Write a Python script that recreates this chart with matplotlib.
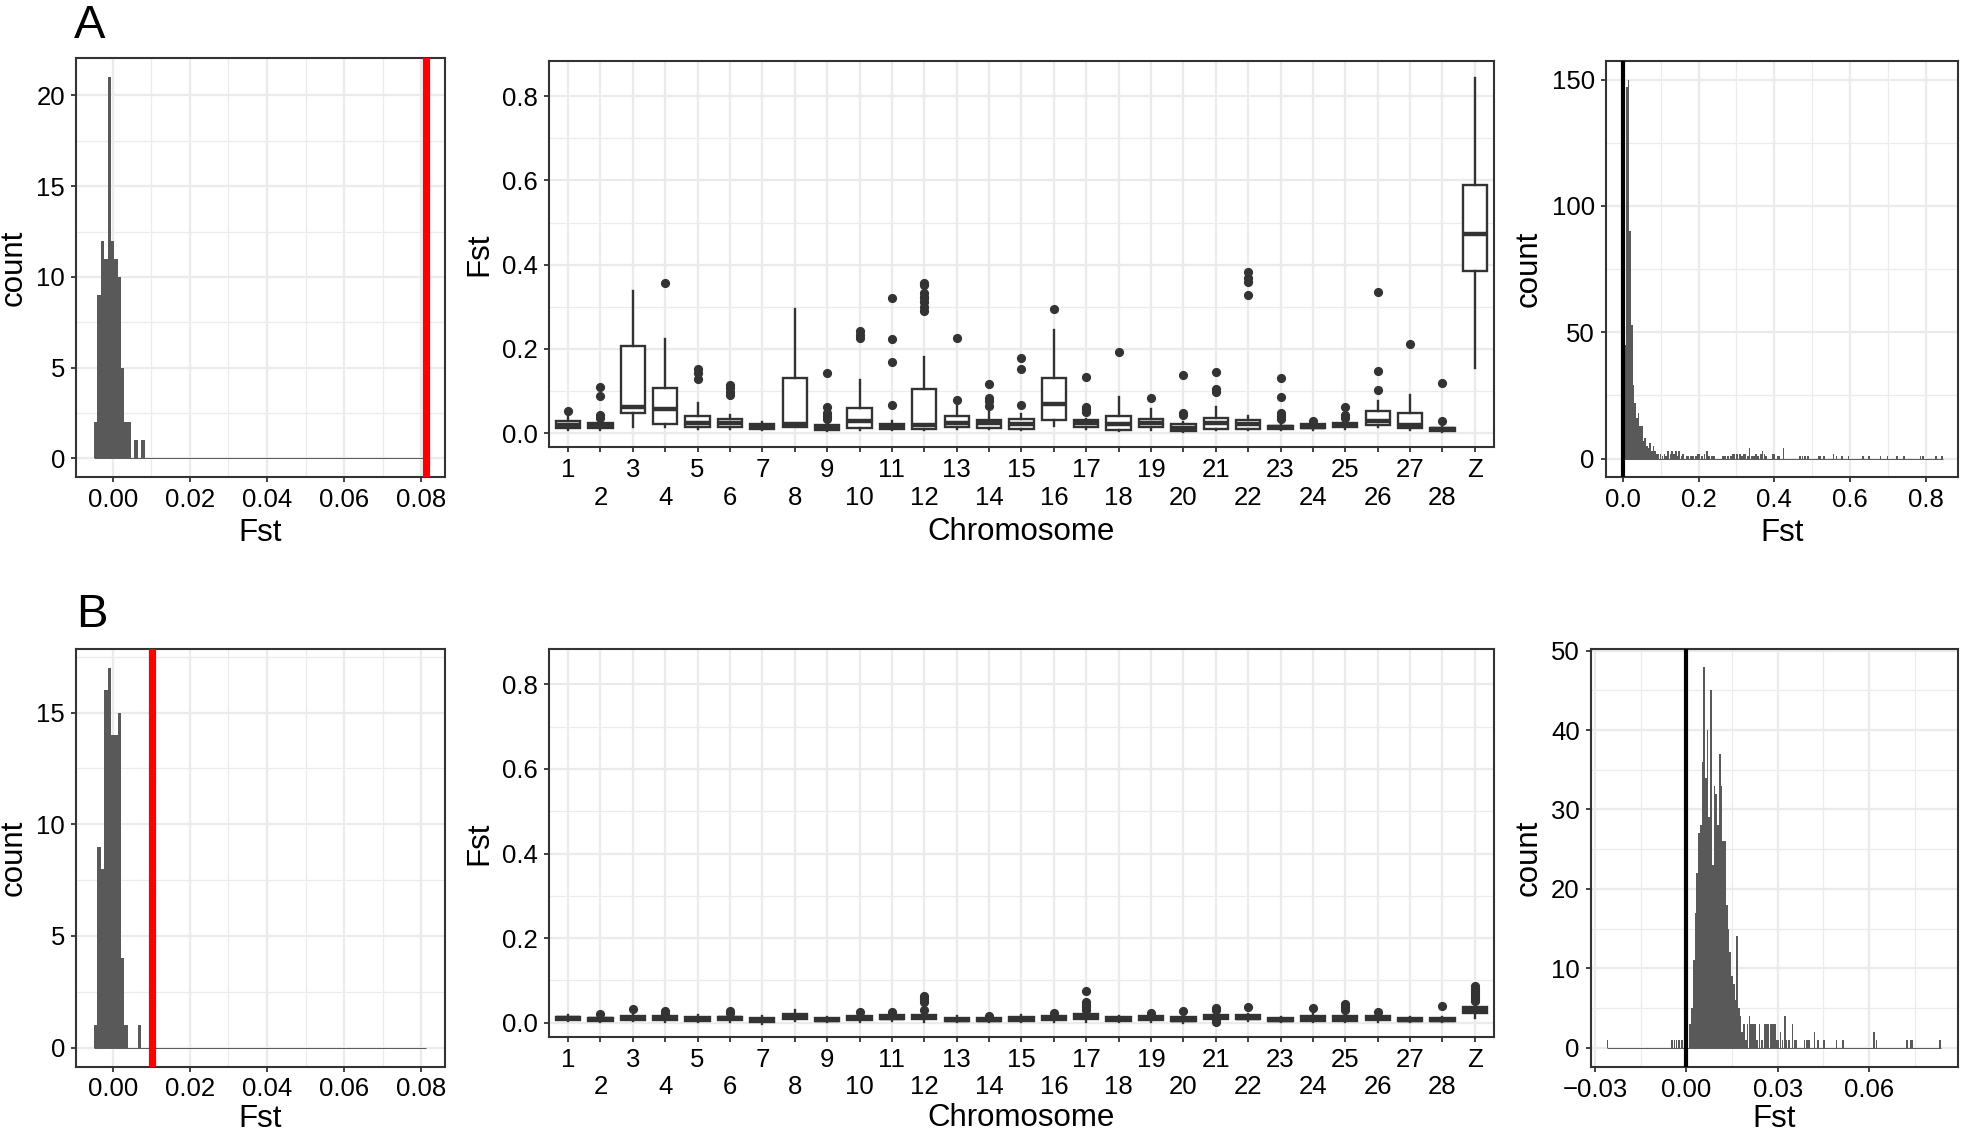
import numpy as np
import matplotlib
matplotlib.use("Agg")
import matplotlib.pyplot as plt

plt.rcParams['font.family'] = ['Liberation Sans', 'DejaVu Sans']

# ---------------- data ----------------
chromosomes = [str(i) for i in range(1, 29)] + ['Z']

# Panel A boxplots (Fst per chromosome)
A_q1 = [.013, .013, .048, .023, .015, .015, .011, .016, .008, .013, .011, .011, .015, .013,
        .011, .031, .015, .009, .016, .006, .011, .011, .011, .012, .015, .019, .012, .006, .386]
A_med = [.019, .018, .062, .057, .025, .025, .016, .022, .012, .028, .015, .019, .025, .025,
         .022, .069, .025, .021, .025, .012, .025, .022, .014, .016, .020, .028, .020, .010, .472]
A_q3 = [.028, .025, .208, .108, .041, .035, .022, .131, .019, .061, .022, .105, .041, .032,
        .033, .132, .032, .040, .035, .021, .037, .032, .018, .021, .025, .054, .047, .013, .590]
A_wlo = [.008, .007, .014, .016, .010, .010, .008, .014, .005, .008, .007, .009, .010, .010,
         .008, .018, .011, .006, .008, .003, .007, .007, .008, .009, .010, .015, .009, .004, .156]
A_whi = [.040, .031, .338, .223, .073, .043, .027, .296, .022, .126, .028, .180, .070, .051,
         .045, .245, .035, .087, .057, .026, .063, .040, .022, .025, .030, .076, .092, .016, .843]
A_out = [[.054], [.037, .044, .089, .109], [], [.357], [.128, .144, .152],
         [.091, .099, .107, .115], [], [], [.033, .040, .047, .063, .144], [.225, .233, .243],
         [.067, .168, .223, .320], [.289, .300, .312, .320, .324, .332, .352, .356],
         [.079, .225], [.065, .077, .083, .117], [.066, .152, .179], [.296],
         [.051, .057, .063, .134], [.193], [.084], [.043, .049, .139], [.097, .104, .145],
         [.327, .358, .368, .382], [.033, .040, .049, .085, .130], [.030], [.036, .043, .063],
         [.102, .147, .334], [.213], [.028, .120], []]

# Panel B boxplots
B_q1 = [.006, .004, .007, .006, .004, .006, .002, .009, .004, .006, .008, .008, .004, .004,
        .004, .006, .008, .005, .006, .003, .009, .008, .004, .005, .005, .006, .004, .004, .022]
B_med = [.010, .008, .011, .010, .008, .010, .007, .015, .007, .010, .012, .013, .007, .007,
         .008, .010, .013, .008, .010, .007, .014, .012, .007, .009, .009, .010, .007, .007, .029]
B_q3 = [.014, .012, .015, .015, .013, .014, .012, .021, .011, .015, .017, .019, .012, .012,
        .014, .015, .020, .013, .015, .013, .019, .017, .011, .016, .015, .015, .012, .012, .036]
B_wlo = [.003, .001, .003, .002, .001, .002, -.002, .004, .001, .002, .003, .002, .001, .001,
         .001, .002, .002, .001, .002, -.001, .006, .003, .001, .001, .001, .002, .001, .001, .012]
B_whi = [.018, .016, .020, .019, .017, .018, .016, .029, .014, .019, .021, .027, .015, .014,
         .017, .018, .028, .016, .018, .017, .024, .021, .013, .020, .019, .018, .014, .014, .047]
B_out = [[], [.021], [.033], [.021, .027], [], [.022, .028], [], [], [], [.025], [.025],
         [.030, .049, .055, .063], [], [.015], [], [.022], [.030, .036, .042, .050, .074],
         [], [.022], [.028], [.001, .003, .030, .035], [.036], [], [.034], [.030, .036, .045],
         [.026], [], [.040], [.052, .056, .060, .065, .070, .075, .080, .086]]

# Left histograms (permutation Fst), shared bins
perm_bin_start = -0.0048
perm_bin_width = 0.00087
permA_counts = [2, 9, 12, 11, 21, 12, 11, 10, 5, 2, 2, 0, 1, 0, 1]
permB_counts = [1, 9, 8, 16, 17, 14, 14, 15, 4, 1, 0, 0, 0, 1]
perm_range_max = 0.0812
obsA_fst = 0.0812
obsB_fst = 0.0103

# Right histograms (window Fst)
winA_bin_start = -0.0002
winA_bin_width = 0.0044
winA_head = [6, 45, 147, 150, 90, 53, 29, 22, 16, 18, 13, 13, 7, 8, 5, 4, 6, 3, 5, 3, 2, 2]
winA_tail_fst = [0.0998, 0.105, 0.110, 0.115, 0.120, 0.126, 0.130, 0.135, 0.140, 0.144, 0.149,
                 0.155, 0.159, 0.168, 0.172, 0.181, 0.186, 0.194, 0.199, 0.203, 0.210, 0.216,
                 0.222, 0.228, 0.234, 0.238, 0.242, 0.264, 0.269, 0.277, 0.286, 0.291, 0.295,
                 0.301, 0.310, 0.315, 0.319, 0.324, 0.330, 0.334, 0.341, 0.347, 0.352, 0.356,
                 0.365, 0.369, 0.374, 0.378, 0.396, 0.400, 0.409, 0.413, 0.424, 0.468, 0.474,
                 0.481, 0.488, 0.516, 0.521, 0.531, 0.556, 0.564, 0.579, 0.595, 0.634, 0.649,
                 0.680, 0.698, 0.724, 0.741, 0.785, 0.792, 0.826, 0.842]
winA_tail_n = [2, 1, 2, 1, 3, 2, 3, 2, 3, 1, 3,
               1, 2, 1, 1, 1, 1, 1, 2, 2, 1, 2,
               3, 1, 1, 1, 1, 1, 1, 1, 1, 2, 2,
               2, 2, 1, 2, 2, 1, 4, 1, 1, 2, 1,
               2, 3, 2, 1, 2, 2, 1, 1, 4, 1, 1,
               1, 1, 1, 1, 1, 2, 1, 1, 1, 1, 1,
               1, 1, 1, 1, 1, 1, 1, 1]
winA_range = (-0.0025, 0.844)

winB_bin_start = 0.0010
winB_bin_width = 0.00057
winB_head = [3, 5, 11, 17, 22, 27, 28, 36, 48, 34, 40, 29, 45, 23, 33, 32, 28, 37, 33, 26,
             26, 18, 15, 12, 9, 8, 6, 14, 5, 4, 2, 3]
winB_tail_fst = [-0.0259, -0.0047, -0.0039, -0.0032, -0.0023, -0.0015,
                 0.0195, 0.0201, 0.0207, 0.0213, 0.0219, 0.0225, 0.0231, 0.0240, 0.0249,
                 0.0258, 0.0264, 0.0270, 0.0278, 0.0284, 0.0290, 0.0297, 0.0303, 0.0309,
                 0.0316, 0.0323, 0.0329, 0.0337, 0.0349, 0.0355, 0.0361, 0.0388, 0.0395,
                 0.0402, 0.0421, 0.0432, 0.0453, 0.0493, 0.0515, 0.0615, 0.0624, 0.0725,
                 0.0738, 0.0743, 0.0834]
winB_tail_n = [1, 1, 1, 1, 1, 1,
               1, 3, 4, 3, 3, 3, 1, 3, 1,
               3, 3, 3, 3, 3, 3, 1, 1, 2,
               1, 4, 1, 1, 3, 1, 1, 1, 1,
               1, 2, 1, 1, 1, 1, 2, 1, 1,
               1, 1, 1]
winB_range = (-0.0262, 0.0837)

# ---------------- figure ----------------
W, H = 1961, 1131
fig = plt.figure(figsize=(W / 100, H / 100), dpi=100)

GRID = '#EBEBEB'
DARK = '#333333'
BAR = '#595959'
TICK_FS = 18.5
TITLE_FS = 22.5


def add_ax(l, t, r, b):
    return fig.add_axes([l / W, 1 - b / H, (r - l) / W, (b - t) / H])


def style(ax):
    for s in ax.spines.values():
        s.set_color(DARK)
        s.set_linewidth(1.5)
    ax.tick_params(which='major', length=3.3, width=1.3, color=DARK, labelsize=TICK_FS,
                   labelcolor='black', pad=4.5)
    ax.tick_params(which='minor', length=0)
    ax.grid(which='major', color=GRID, linewidth=1.6)
    ax.grid(which='minor', color=GRID, linewidth=0.9)
    ax.set_axisbelow(True)


def ftext(x, y, s, **kw):
    fig.text(x / W, 1 - y / H, s, **kw)


def perm_hist(ax, counts, obs, ylim, yticks, yminor):
    edges = perm_bin_start + perm_bin_width * np.arange(len(counts))
    ax.hlines(0, perm_bin_start, perm_range_max, color=BAR, lw=0.7, zorder=2)
    ax.bar(edges, counts, width=perm_bin_width, align='edge', color=BAR, lw=0, zorder=2)
    ax.axvline(obs, color='red', lw=5.2, zorder=3)
    ax.set_xlim(-0.0095, 0.0861)
    ax.set_ylim(*ylim)
    xt = [0, 0.02, 0.04, 0.06, 0.08]
    ax.set_xticks(xt, ['%.2f' % v for v in xt])
    ax.set_xticks([0.01, 0.03, 0.05, 0.07], minor=True)
    ax.set_yticks(yticks, [str(v) for v in yticks])
    ax.set_yticks(yminor, minor=True)
    style(ax)


def win_hist(ax, start, width, head, tail_x, tail_n, rng):
    edges = start + width * np.arange(len(head))
    ax.hlines(0, rng[0], rng[1], color=BAR, lw=0.7, zorder=2)
    ax.bar(edges, head, width=width, align='edge', color=BAR, lw=0, zorder=2)
    ax.bar(tail_x, tail_n, width=width, align='center', color=BAR, lw=0, zorder=2)
    ax.axvline(0, color='black', lw=3, zorder=3)
    style(ax)


def box_panel(ax, q1, med, q3, wlo, whi, out):
    stats = []
    for i in range(len(chromosomes)):
        stats.append(dict(med=med[i], q1=q1[i], q3=q3[i], whislo=wlo[i], whishi=whi[i],
                          fliers=out[i], label=chromosomes[i]))
    pos = np.arange(1, len(chromosomes) + 1)
    ax.bxp(stats, positions=pos, widths=0.75, patch_artist=True, showcaps=False,
           boxprops=dict(facecolor='white', edgecolor=DARK, linewidth=1.7),
           medianprops=dict(color=DARK, linewidth=3.2, solid_capstyle='butt'),
           whiskerprops=dict(color=DARK, linewidth=1.7),
           flierprops=dict(marker='o', markerfacecolor=DARK, markeredgecolor=DARK,
                           markersize=5.6))
    ax.set_xlim(0.4, 29.6)
    ax.set_ylim(-0.0332, 0.8838)
    labs = [c if i % 2 == 0 else '\n' + c for i, c in enumerate(chromosomes)]
    ax.set_xticks(pos, labs)
    yt = [0.0, 0.2, 0.4, 0.6, 0.8]
    ax.set_yticks(yt, ['%.1f' % v for v in yt])
    ax.set_yticks([0.1, 0.3, 0.5, 0.7], minor=True)
    style(ax)
    for t in ax.get_xticklabels():
        t.set_linespacing(1.2)


# ---- Row A ----
axA1 = add_ax(76, 58.2, 445, 477.5)
perm_hist(axA1, permA_counts, obsA_fst, (-1.05, 22.05), [0, 5, 10, 15, 20],
          [2.5, 7.5, 12.5, 17.5])

axA2 = add_ax(548.6, 60.7, 1494.3, 447.3)
box_panel(axA2, A_q1, A_med, A_q3, A_wlo, A_whi, A_out)

axA3 = add_ax(1605.7, 60.7, 1958, 477.5)
win_hist(axA3, winA_bin_start, winA_bin_width, winA_head, winA_tail_fst, winA_tail_n, winA_range)
axA3.set_xlim(-0.0447, 0.884)
axA3.set_ylim(-7.5, 157.5)
xt = [0.0, 0.2, 0.4, 0.6, 0.8]
axA3.set_xticks(xt, ['%.1f' % v for v in xt])
axA3.set_xticks([0.1, 0.3, 0.5, 0.7], minor=True)
axA3.set_yticks([0, 50, 100, 150], ['0', '50', '100', '150'])
axA3.set_yticks([25, 75, 125], minor=True)

# ---- Row B ----
axB1 = add_ax(76, 648.9, 445, 1066.6)
perm_hist(axB1, permB_counts, obsB_fst, (-0.85, 17.85), [0, 5, 10, 15],
          [2.5, 7.5, 12.5, 17.5])

axB2 = add_ax(548.6, 649, 1494.3, 1036.7)
box_panel(axB2, B_q1, B_med, B_q3, B_wlo, B_whi, B_out)

axB3 = add_ax(1590.7, 649.2, 1958, 1067)
win_hist(axB3, winB_bin_start, winB_bin_width, winB_head, winB_tail_fst, winB_tail_n, winB_range)
axB3.set_xlim(-0.0314, 0.0892)
axB3.set_ylim(-2.45, 50.2)
xt = [-0.03, 0.0, 0.03, 0.06]
axB3.set_xticks(xt, ['\u22120.03', '0.00', '0.03', '0.06'])
axB3.set_xticks([-0.015, 0.015, 0.045, 0.075], minor=True)
axB3.set_yticks([0, 10, 20, 30, 40, 50], ['0', '10', '20', '30', '40', '50'])
axB3.set_yticks([5, 15, 25, 35, 45], minor=True)

# ---- axis titles ----
ftext(14, 268, 'count', rotation=90, ha='center', va='center', fontsize=TITLE_FS)
ftext(260.5, 541, 'Fst', ha='center', va='baseline', fontsize=TITLE_FS)
ftext(479, 254, 'Fst', rotation=90, ha='center', va='center', fontsize=TITLE_FS)
ftext(1021, 540, 'Chromosome', ha='center', va='baseline', fontsize=TITLE_FS)
ftext(1529, 269, 'count', rotation=90, ha='center', va='center', fontsize=TITLE_FS)
ftext(1782, 541, 'Fst', ha='center', va='baseline', fontsize=TITLE_FS)

ftext(14, 858, 'count', rotation=90, ha='center', va='center', fontsize=TITLE_FS)
ftext(260.5, 1127, 'Fst', ha='center', va='baseline', fontsize=TITLE_FS)
ftext(479, 843, 'Fst', rotation=90, ha='center', va='center', fontsize=TITLE_FS)
ftext(1021, 1126, 'Chromosome', ha='center', va='baseline', fontsize=TITLE_FS)
ftext(1529, 858, 'count', rotation=90, ha='center', va='center', fontsize=TITLE_FS)
ftext(1774, 1127, 'Fst', ha='center', va='baseline', fontsize=TITLE_FS)

# ---- panel tags ----
ftext(74, 37.5, 'A', ha='left', va='baseline', fontsize=34)
ftext(76, 627, 'B', ha='left', va='baseline', fontsize=34)

fig.savefig('out.png', dpi=100)
